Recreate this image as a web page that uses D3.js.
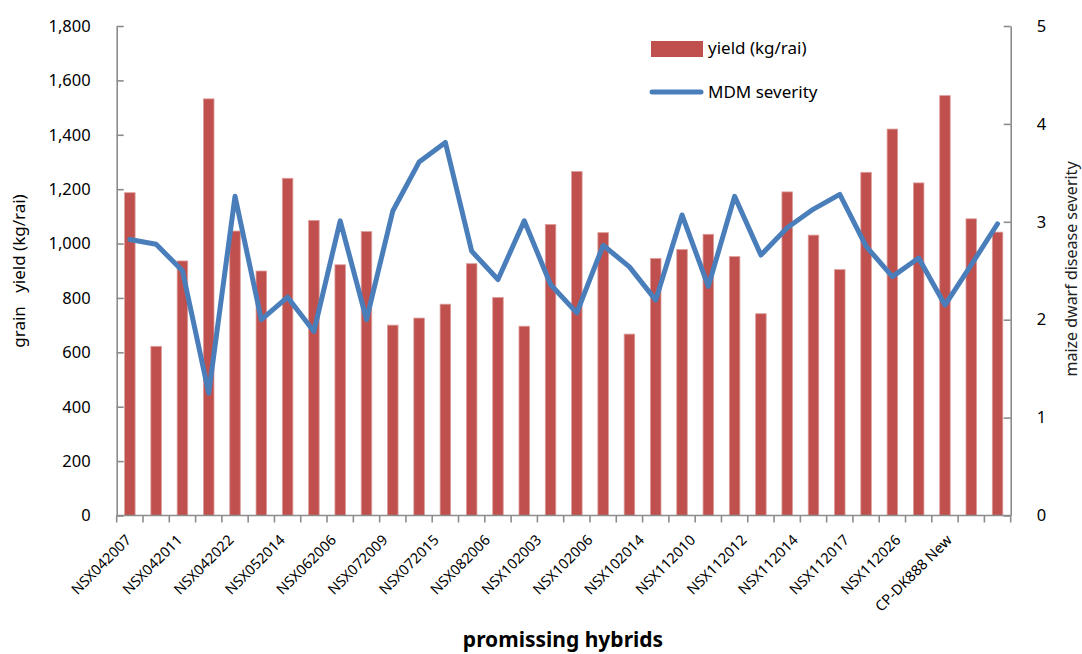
<!DOCTYPE html>
<html>
<head>
<meta charset="utf-8">
<script src="https://cdn.jsdelivr.net/npm/d3@7"></script>
<style>
  html, body { margin: 0; padding: 0; background: #fff; }
  svg { display: block; font-family: "Noto Sans", sans-serif; }
</style>
</head>
<body>
<svg id="chart" width="1082" height="654"></svg>
<script>
// Grain yield (bars, left axis) and MDM severity (line, right axis) per hybrid
const hybridLabels = [
  "NSX042007", "NSX042011", "NSX042022", "NSX052014", "NSX062006", "NSX072009",
  "NSX072015", "NSX082006", "NSX102003", "NSX102006", "NSX102014", "NSX112010",
  "NSX112012", "NSX112014", "NSX112017", "NSX112026", "CP-DK888 New"
];
const yieldKgRai = [
  1187, 622, 936, 1532, 1046, 899, 1240, 1085, 922, 1044, 700, 726,
  777, 926, 802, 696, 1070, 1265, 1040, 667, 945, 978, 1034, 952,
  742, 1190, 1031, 904, 1262, 1421, 1223, 1544, 1091, 1042
];
const mdmSeverity = [
  2.82, 2.77, 2.50, 1.25, 3.26, 2.00, 2.23, 1.88, 3.01, 2.00, 3.11, 3.61,
  3.81, 2.70, 2.41, 3.01, 2.36, 2.07, 2.76, 2.54, 2.20, 3.07, 2.34, 3.26,
  2.66, 2.94, 3.13, 3.28, 2.75, 2.44, 2.63, 2.15, 2.56, 2.98
];
const yieldTicks = [0, 200, 400, 600, 800, 1000, 1200, 1400, 1600, 1800];
const severityTicks = [0, 1, 2, 3, 4, 5];

const svg = d3.select("#chart");
const plot = { left: 116.7, right: 1010.7, top: 26, bottom: 515.5 };
const axisColor = "#8c8c8c";
const barColor = "#c0504d";
const lineColor = "#4a7ebb";

const idx = d3.range(yieldKgRai.length);
const x = d3.scaleBand().domain(idx).range([plot.left, plot.right])
  .paddingInner(0.6).paddingOuter(0.3);
const step = x.step();
const cx = i => x(i) + x.bandwidth() / 2;

const yL = d3.scaleLinear().domain([0, 1800]).range([plot.bottom, plot.top]);
const yR = d3.scaleLinear().domain([0, 5]).range([plot.bottom, plot.top]);

// bars
svg.append("g").selectAll("rect").data(idx).join("rect")
  .attr("x", i => x(i))
  .attr("y", i => yL(yieldKgRai[i]))
  .attr("width", x.bandwidth())
  .attr("height", i => plot.bottom - yL(yieldKgRai[i]))
  .attr("fill", barColor)
  .attr("stroke", "#dc9c9a")
  .attr("stroke-width", 0.8);

// severity line
svg.append("path")
  .datum(idx)
  .attr("fill", "none")
  .attr("stroke", lineColor)
  .attr("stroke-width", 5)
  .attr("stroke-linejoin", "round")
  .attr("stroke-linecap", "round")
  .attr("d", d3.line().x(i => cx(i)).y(i => yR(mdmSeverity[i])));

// left axis (ticks pointing inward)
const gL = svg.append("g").attr("transform", `translate(${plot.left},0)`)
  .call(d3.axisRight(yL).tickValues(yieldTicks).tickSize(7).tickSizeOuter(0).tickFormat(d3.format(",")));
gL.selectAll("text").attr("x", -26).attr("text-anchor", "end");

// right axis (ticks pointing inward)
const gR = svg.append("g").attr("transform", `translate(${plot.right},0)`)
  .call(d3.axisLeft(yR).tickValues(severityTicks).tickSize(7).tickSizeOuter(0).tickFormat(d3.format("d")));
gR.selectAll("text").attr("x", 26).attr("text-anchor", "start");

// category axis: ticks at band boundaries
const gX = svg.append("g");
gX.append("line")
  .attr("x1", plot.left).attr("x2", plot.right)
  .attr("y1", plot.bottom).attr("y2", plot.bottom);
gX.selectAll("line.tick").data(d3.range(idx.length + 1)).join("line")
  .attr("class", "tick")
  .attr("x1", k => plot.left + k * step).attr("x2", k => plot.left + k * step)
  .attr("y1", plot.bottom).attr("y2", plot.bottom + 7);

[gL, gR].forEach(g => {
  g.select(".domain").attr("stroke", axisColor).attr("stroke-width", 1.6);
  g.selectAll(".tick line").attr("stroke", axisColor).attr("stroke-width", 1.6);
  g.selectAll("text").attr("fill", "#000").style("font-size", "16.5px")
    .style("font-family", "'Noto Sans', sans-serif");
});
gX.selectAll("line").attr("stroke", axisColor).attr("stroke-width", 1.6);

// hybrid labels, every other category, rotated
const xLab = d3.scalePoint().domain(hybridLabels).range([132, 132 + 16 * 51.3]);
svg.append("g").selectAll("text").data(hybridLabels).join("text")
  .attr("transform", d => `translate(${xLab(d)},541) rotate(-45)`)
  .attr("text-anchor", "end")
  .style("font-size", "14.5px")
  .attr("fill", "#000")
  .text(d => d);

// axis titles
svg.append("text")
  .attr("transform", "translate(25,271) rotate(-90)")
  .attr("text-anchor", "middle")
  .style("font-size", "17px")
  .style("white-space", "pre")
  .text("grain   yield (kg/rai)");

svg.append("text")
  .attr("transform", "translate(1077,269) rotate(-90)")
  .attr("text-anchor", "middle")
  .style("font-size", "16px")
  .attr("fill", "#222")
  .text("maize dwarf disease severity");

svg.append("text")
  .attr("x", 563).attr("y", 647)
  .attr("text-anchor", "middle")
  .style("font-size", "21px")
  .style("font-weight", "bold")
  .text("promissing hybrids");

// legend
const lg = svg.append("g");
lg.append("rect").attr("x", 651).attr("y", 41).attr("width", 52).attr("height", 16)
  .attr("fill", barColor);
lg.append("text").attr("x", 708).attr("y", 54).style("font-size", "17px").text("yield (kg/rai)");
lg.append("line").attr("x1", 652).attr("x2", 701).attr("y1", 92).attr("y2", 92)
  .attr("stroke", lineColor).attr("stroke-width", 5).attr("stroke-linecap", "round");
lg.append("text").attr("x", 708).attr("y", 98).style("font-size", "17px").text("MDM severity");
</script>
</body>
</html>
